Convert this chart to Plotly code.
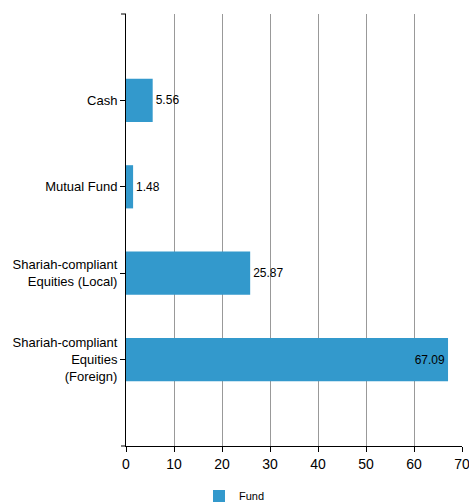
import plotly.graph_objects as go

categories = ["Shariah-compliant<br>Equities<br>(Foreign)",
              "Shariah-compliant<br>Equities (Local)",
              "Mutual Fund",
              "Cash"]
values = [67.09, 25.87, 1.48, 5.56]
labels = ["67.09", "25.87", "1.48", "5.56"]
text_positions = ["inside", "outside", "outside", "outside"]
x_ticks = [0, 10, 20, 30, 40, 50, 60, 70]

fig = go.Figure()
fig.add_trace(go.Bar(
    y=list(range(len(categories))),
    x=values,
    orientation="h",
    name="Fund",
    marker=dict(color="#3399CC", line=dict(width=0)),
    width=0.5,
    text=labels,
    textposition=text_positions,
    insidetextanchor="end",
    textfont=dict(color="#000000", size=12, family="Liberation Sans, Arial, sans-serif"),
    cliponaxis=False,
    showlegend=True,
))

fig.update_layout(
    width=469, height=503,
    autosize=False,
    margin=dict(l=126, r=7, t=14, b=57, autoexpand=False),
    paper_bgcolor="white", plot_bgcolor="white",
    font=dict(family="Liberation Sans, Arial, sans-serif", color="#000000"),
    xaxis=dict(
        range=[0, 70], tickvals=x_ticks, showgrid=True, gridcolor="#999999", gridwidth=1,
        zeroline=False, showline=True, linecolor="#000000", linewidth=1,
        ticks="outside", ticklen=5, tickcolor="#000000",
        tickfont=dict(size=14), automargin=False, ticklabeloverflow="allow",
    ),
    yaxis=dict(
        range=[-1, 4], tickvals=list(range(len(categories))), ticktext=categories,
        showgrid=False, zeroline=False, showline=True, linecolor="#000000", linewidth=1,
        ticks="outside", ticklen=5, tickcolor="#000000",
        tickfont=dict(size=13), automargin=False,
    ),
    legend=dict(orientation="h", xref="container", x=0.5, xanchor="center",
                y=-0.082, yanchor="top", font=dict(size=11)),
    shapes=[
        dict(type="line", xref="paper", yref="paper", x0=-5/336, x1=0, y0=1, y1=1,
             line=dict(color="#000000", width=1)),
        dict(type="line", xref="paper", yref="paper", x0=-5/336, x1=0, y0=0, y1=0,
             line=dict(color="#000000", width=1)),
    ],
)

fig.write_html("out.html", config={"displayModeBar": False},
               post_script="document.body.style.margin='0px';")
